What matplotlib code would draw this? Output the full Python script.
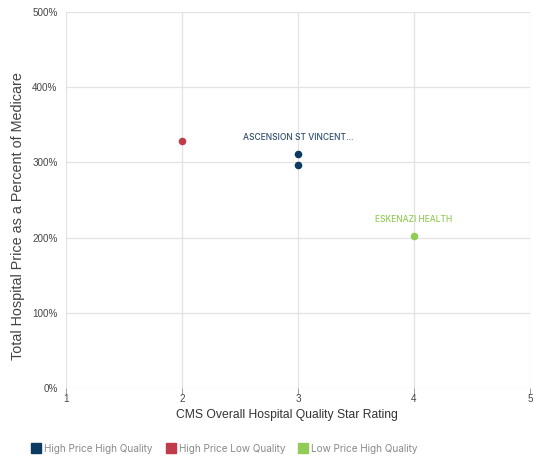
import matplotlib.pyplot as plt
from matplotlib.lines import Line2D
from matplotlib.ticker import FuncFormatter

plt.rcParams['font.family'] = ['Inter', 'DejaVu Sans']
arial_like = ['Liberation Sans', 'DejaVu Sans']

# data
groups = ['High Price High Quality', 'High Price Low Quality', 'Low Price High Quality']
colors = ['#0b3b60', '#c23b4a', '#92cc55']
star_rating = {
    'High Price High Quality': [3, 3],
    'High Price Low Quality': [2],
    'Low Price High Quality': [4],
}
price_pct = {
    'High Price High Quality': [311, 296],
    'High Price Low Quality': [328],
    'Low Price High Quality': [202],
}
labels = [('ASCENSION ST VINCENT...', 3, 311, '#2f4f6e'),
          ('ESKENAZI HEALTH', 4, 202, '#92cc55')]

fig = plt.figure(figsize=(5.33, 4.59), dpi=100)
ax = fig.add_axes([0.1238, 0.1547, 0.8706, 0.8192])

for g, c in zip(groups, colors):
    ax.scatter(star_rating[g], price_pct[g], s=30, color=c, zorder=3, linewidths=0)

for text, x, y, c in labels:
    ax.annotate(text, (x, y), xytext=(0, 8.5), textcoords='offset points',
                ha='center', va='bottom', fontsize=6.1, color=c, weight='medium')

ax.set_xlim(1, 5)
ax.set_ylim(0, 500)
ax.set_xticks([1, 2, 3, 4, 5])
ax.set_yticks([0, 100, 200, 300, 400, 500])
ax.yaxis.set_major_formatter(FuncFormatter(lambda v, p: f'{int(v)}%'))
ax.grid(color='#e3e3e3', linewidth=0.9)
ax.set_axisbelow(True)
for s in ax.spines.values():
    s.set_visible(False)
for lab in ax.get_xticklabels() + ax.get_yticklabels():
    lab.set_family(arial_like)
ax.tick_params(axis='y', length=0, labelsize=7.1, labelcolor='#444444', pad=6)
ax.tick_params(axis='x', length=4, color='#999999', width=0.7, labelsize=7.1,
               labelcolor='#444444', pad=0)

ax.set_xlabel('CMS Overall Hospital Quality Star Rating', fontsize=8.7, color='#333333',
              family=arial_like)
ax.set_ylabel('Total Hospital Price as a Percent of Medicare', fontsize=10.4, color='#444444',
              family=arial_like)
ax.xaxis.set_label_coords(0.477, -0.055)
ax.yaxis.set_label_coords(-0.088, 0.457)

handles = [Line2D([], [], marker='s', linestyle='', markersize=7, color=c) for c in colors]
leg = fig.legend(handles, groups, loc='lower left', bbox_to_anchor=(0.043, -0.008), ncol=3,
                 frameon=False, fontsize=7.2, handletextpad=0.35, columnspacing=1.35,
                 handlelength=0.9)
for t in leg.get_texts():
    t.set_color('#8a8a8a')

fig.savefig('out.png', dpi=100)
